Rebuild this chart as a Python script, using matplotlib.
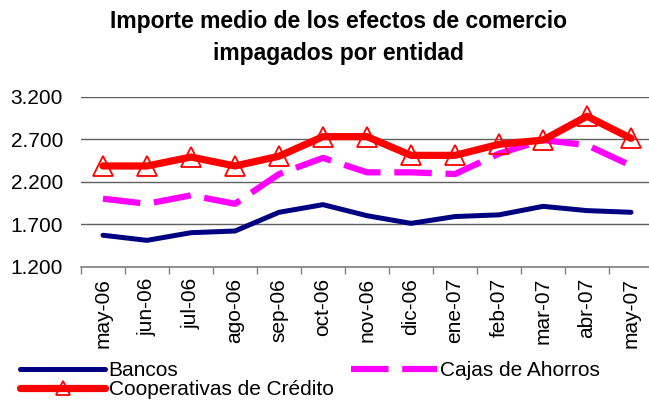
import matplotlib
matplotlib.use("Agg")
import matplotlib.pyplot as plt
from matplotlib.ticker import FuncFormatter

plt.rcParams["font.family"] = ["Liberation Sans", "DejaVu Sans"]

# ---------------- data ----------------
meses = ["may-06", "jun-06", "jul-06", "ago-06", "sep-06", "oct-06", "nov-06",
         "dic-06", "ene-07", "feb-07", "mar-07", "abr-07", "may-07"]
bancos = [1570, 1510, 1600, 1620, 1840, 1930, 1800, 1710, 1790, 1810, 1910, 1860, 1840]
cajas = [2000, 1940, 2040, 1940, 2290, 2480, 2310, 2310, 2290, 2530, 2690, 2630, 2390]
cooperativas = [2385, 2385, 2490, 2385, 2500, 2730, 2730, 2510, 2510, 2640, 2690, 2970, 2710]
yticks = [1200, 1700, 2200, 2700, 3200]

W, H = 649, 403
fig = plt.figure(figsize=(W / 100, H / 100), dpi=100)
# plot area in pixels: left 81, right 653, top 96.7, bottom 266.7
ax = fig.add_axes([81 / W, 1 - 266.7 / H, 572 / W, 170 / H])

x = range(len(meses))
l1, = ax.plot(x, bancos, color="#000080", lw=3.6, solid_capstyle="round", zorder=3)
l2, = ax.plot(x, cajas, color="#FF00FF", lw=4.5, dashes=(6, 2.2), dash_capstyle="butt", zorder=3)
l3, = ax.plot(x, cooperativas, color="#FF0000", lw=5.2, solid_capstyle="round",
              marker="^", ms=14.5, mfc="none", mec="#FF0000", mew=1.3, zorder=4)

ax.set_xlim(-0.5, 12.5)
ax.set_ylim(1200, 3200)
ax.set_yticks(yticks)
ax.yaxis.set_major_formatter(FuncFormatter(lambda v, p: f"{int(v):,}".replace(",", ".")))
ax.set_xticks([i - 0.5 for i in range(len(meses) + 1)], minor=False)
ax.set_xticklabels([])
ax.set_xticks(list(x), minor=True)
ax.set_xticklabels(meses, minor=True, rotation=90, fontsize=15)
ax.tick_params(axis="x", which="major", length=5, color="#808080", width=1)
ax.tick_params(axis="x", which="minor", length=0, pad=8)
ax.tick_params(axis="y", length=0, labelsize=15, pad=13)
for s in ["left", "right", "top"]:
    ax.spines[s].set_visible(False)
ax.spines["bottom"].set_color("#808080")
ax.spines["bottom"].set_linewidth(1.2)
ax.grid(axis="y", color="#606060", lw=1)
ax.set_axisbelow(True)

fig.text(338 / W, 1 - 10 / H, "Importe medio de los efectos de comercio\nimpagados por entidad",
         ha="center", va="top", fontsize=16.5, fontweight="bold", linespacing=1.5)

fig.legend([l1, l3, l2], ["Bancos", "Cooperativas de Crédito", "Cajas de Ahorros"],
           loc="upper left", bbox_to_anchor=(20 / W, 1 - 361 / H), ncol=2, frameon=False,
           fontsize=15, handlelength=4.1, handletextpad=0.15, columnspacing=0.85,
           labelspacing=0.0, borderpad=0, borderaxespad=0, markerscale=0.65)

fig.savefig("out.png", dpi=100)
